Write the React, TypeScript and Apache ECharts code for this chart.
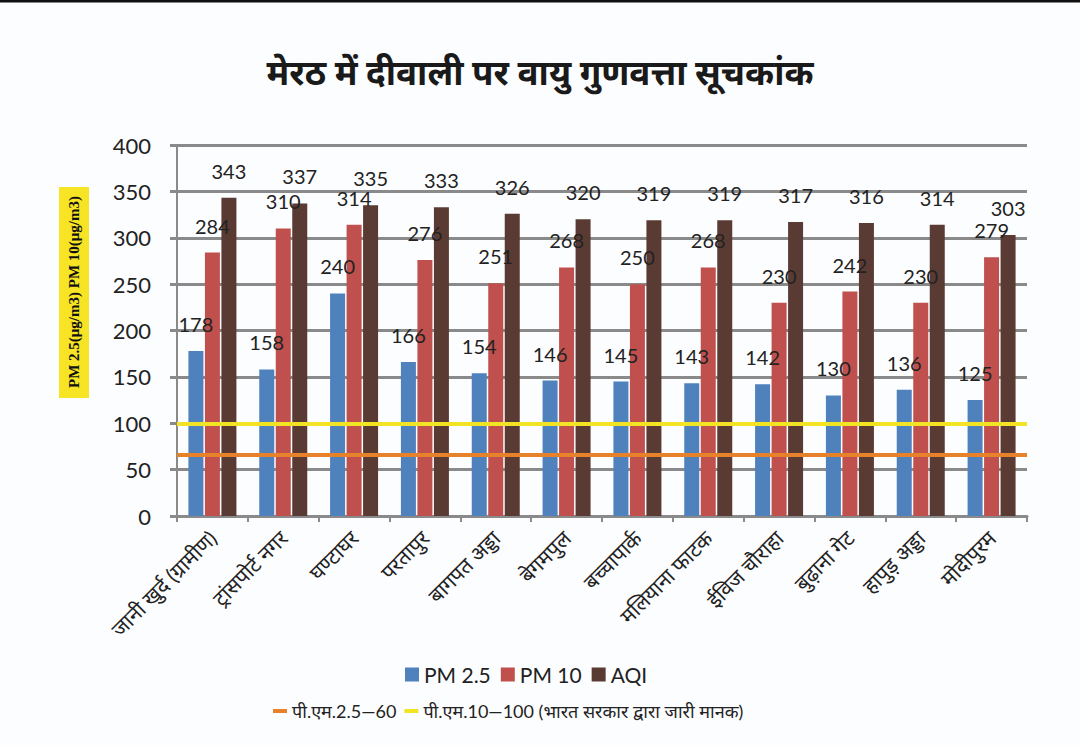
import React, { useEffect, useRef } from "react";
import * as echarts from "echarts";

const categories = [
  "जानी खुर्द (ग्रामीण)",
  "ट्रांसपोर्ट नगर",
  "घण्टाघर",
  "परतापुर",
  "बागपत अड्डा",
  "बेगमपुल",
  "बच्चापार्क",
  "मलियाना फाटक",
  "ईविज चौराहा",
  "बुढ़ाना गेट",
  "हापुड़ अड्डा",
  "मोदीपुरम",
];
const pm25 = [178, 158, 240, 166, 154, 146, 145, 143, 142, 130, 136, 125];
const pm10 = [284, 310, 314, 276, 251, 268, 250, 268, 230, 242, 230, 279];
const aqi = [343, 337, 335, 333, 326, 320, 319, 319, 317, 316, 314, 303];
const standardPm25 = 66;
const standardPm10 = 100;
const titleText = "मेरठ में दीवाली पर वायु गुणवत्ता सूचकांक";
const yAxisTitle = "PM 2.5(μg/m3) PM 10(μg/m3)";
const lineNamePm25 = "पी.एम.2.5—60";
const lineNamePm10 = "पी.एम.10—100 (भारत सरकार द्वारा जारी मानक)";

const FONT = "Lato, 'Noto Sans Devanagari', 'Lohit Devanagari', 'Noto Sans', sans-serif";

export default function App() {
  const ref = useRef<HTMLDivElement>(null);
  useEffect(() => {
    if (!ref.current) return;
    const chart = echarts.init(ref.current, undefined, { renderer: "svg" });
    const labelStyle = {
      show: true,
      position: "top" as const,
      distance: 17,
      fontSize: 20,
      color: "#222",
      fontFamily: FONT,
    };
    chart.setOption({
      animation: false,
      backgroundColor: "#fcfdff",
      textStyle: { fontFamily: FONT },
      title: {
        text: titleText,
        left: "center",
        top: 48,
        textStyle: { fontSize: 35, fontWeight: "bold", color: "#1a1a1a", fontFamily: FONT },
      },
      graphic: [
        { type: "rect", shape: { x: 0, y: 0, width: 1080, height: 2.5 }, style: { fill: "#111" } },
        { type: "rect", shape: { x: 59, y: 187, width: 30, height: 211 }, style: { fill: "#f7e424" } },
        {
          type: "text",
          x: 74,
          y: 292,
          rotation: Math.PI / 2,
          style: {
            text: yAxisTitle,
            fontSize: 15,
            fontWeight: "bold",
            fontFamily: "'Liberation Serif', 'DejaVu Serif', serif",
            fill: "#111",
            align: "center",
            verticalAlign: "middle",
          },
        },
      ],
      legend: [
        {
          data: ["PM 2.5", "PM 10", "AQI"],
          left: 400,
          top: 659,
          icon: "rect",
          itemWidth: 14,
          itemHeight: 14,
          itemGap: 10,
          textStyle: { fontSize: 21, color: "#222", fontFamily: FONT },
        },
        {
          data: [lineNamePm25, lineNamePm10],
          left: 268,
          top: 697,
          icon: "rect",
          itemWidth: 14,
          itemHeight: 4,
          itemGap: 8,
          textStyle: { fontSize: 18, color: "#222", fontFamily: FONT },
        },
      ],
      grid: { left: 177, right: 53, top: 145, bottom: 229, containLabel: false },
      xAxis: {
        type: "category",
        data: categories,
        boundaryGap: true,
        axisLine: { lineStyle: { color: "#8a8a8a", width: 3 } },
        axisTick: { show: true, length: 6, lineStyle: { color: "#8a8a8a", width: 2 } },
        axisLabel: {
          rotate: 45,
          interval: 0,
          margin: 18,
          fontSize: 21,
          color: "#222",
          fontFamily: FONT,
        },
      },
      yAxis: {
        type: "value",
        min: 0,
        max: 400,
        interval: 50,
        axisLine: { show: true, lineStyle: { color: "#8a8a8a", width: 2 } },
        axisTick: { show: true, length: 7, lineStyle: { color: "#8a8a8a", width: 3 } },
        axisLabel: { fontSize: 22, color: "#222", margin: 26, fontFamily: FONT },
        splitLine: { show: true, lineStyle: { color: "#8a8a8a", width: 3 } },
      },
      series: [
        {
          name: "PM 2.5",
          type: "bar",
          data: pm25,
          barWidth: 15,
          barGap: "0%",
          itemStyle: { color: "#4f81bd" },
          label: labelStyle,
        },
        {
          name: "PM 10",
          type: "bar",
          data: pm10,
          barWidth: 15,
          barGap: "0%",
          itemStyle: { color: "#c0504d" },
          label: labelStyle,
        },
        {
          name: "AQI",
          type: "bar",
          data: aqi,
          barWidth: 15,
          barGap: "10%",
          itemStyle: { color: "#5a3b33" },
          label: labelStyle,
        },
        {
          name: lineNamePm25,
          type: "line",
          data: [],
          itemStyle: { color: "#e8822a" },
          lineStyle: { color: "#e8822a" },
          z: 10,
          markLine: {
            silent: true,
            symbol: "none",
            label: { show: false },
            lineStyle: { color: "#e8822a", width: 4, type: "solid" },
            data: [{ yAxis: standardPm25 }],
          },
        },
        {
          name: lineNamePm10,
          type: "line",
          data: [],
          itemStyle: { color: "#f2e424" },
          lineStyle: { color: "#f2e424" },
          z: 10,
          markLine: {
            silent: true,
            symbol: "none",
            label: { show: false },
            lineStyle: { color: "#f2e424", width: 4, type: "solid" },
            data: [{ yAxis: standardPm10 }],
          },
        },
      ],
    });
    return () => chart.dispose();
  }, []);
  return (
    <div
      ref={ref}
      style={{ position: "fixed", left: 0, top: 0, width: 1080, height: 745 }}
    />
  );
}
